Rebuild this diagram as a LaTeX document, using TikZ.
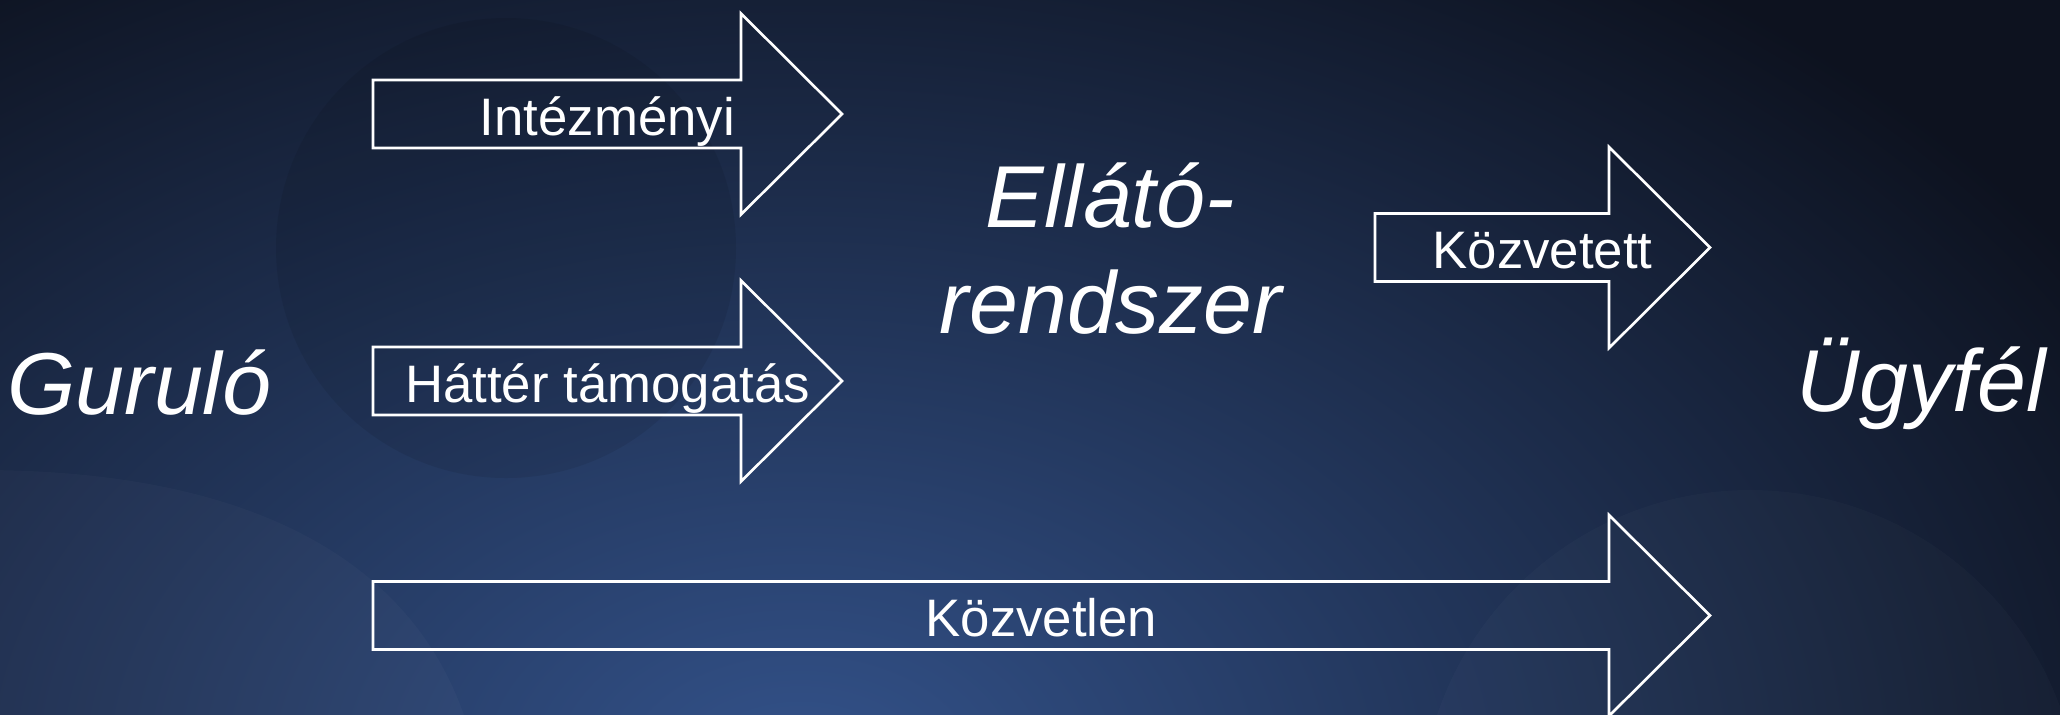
\documentclass[tikz,border=0pt]{standalone}
\usepackage{fontspec}
\setmainfont{Liberation Sans}
\usetikzlibrary{shapes,positioning}
\definecolor{bgdark}{HTML}{0D121F}
\definecolor{bglight}{HTML}{33528A}
\tikzset{blockarrow/.style={draw=white,line width=0.75pt,line join=miter},
  big/.style={text=white,inner sep=0pt,anchor=base,font=\fontsize{25pt}{30pt}\selectfont\itshape},
  lbl/.style={text=white,inner sep=0pt,anchor=base,font=\fontsize{15pt}{18pt}\selectfont}}

\begin{document}
\begin{tikzpicture}[x=0.01cm,y=-0.01cm]
    \useasboundingbox (0,0) rectangle (2060,714);
    \begin{scope}
    \clip (-20,-20) rectangle (2080,734);
    \fill[bgdark] (-20,-20) rectangle (2080,734);
    \shade[inner color=bglight,outer color=bgdark] (800,770) ellipse [x radius=1500,y radius=980];
    \fill[black,opacity=0.08] (506,248) circle (230);
    \fill[white,opacity=0.025] (-20,470) .. controls (250,470) and (420,560) .. (470,734) -- (-20,734) -- cycle;
    \fill[white,opacity=0.02] (1750,820) circle (330);
    \end{scope}

    \draw[blockarrow] (373,80) -- (741,80) -- (741,13.5) -- (842,114) -- (741,214.5) -- (741,148) -- (373,148) -- cycle;
    \draw[blockarrow] (373,347) -- (741,347) -- (741,280.5) -- (842,381) -- (741,481.5) -- (741,415) -- (373,415) -- cycle;
    \draw[blockarrow] (1375,213.5) -- (1609,213.5) -- (1609,147) -- (1710,247.5) -- (1609,348) -- (1609,281.5) -- (1375,281.5) -- cycle;
    \draw[blockarrow] (373,581.5) -- (1609,581.5) -- (1609,515) -- (1710,615.5) -- (1609,716) -- (1609,649.5) -- (373,649.5) -- cycle;

    \node[big] (guru) at (139.5,414) {Guruló};
    \node[big] (ellato) at (1110,227) {Ellátó-};
    \node[big] (rendszer) at (1111,333) {rendszer};
    \node[big] (ugyfel) at (1921,411) {Ügyfél};

    \node[lbl] (intez) at (607.5,135) {Intézményi};
    \node[lbl] (hatter) at (607.5,402) {Háttér támogatás};
    \node[lbl] (kozvetett) at (1542.5,268.5) {Közvetett};
    \node[lbl] (kozvetlen) at (1041.5,636.5) {Közvetlen};
\end{tikzpicture}
\end{document}
